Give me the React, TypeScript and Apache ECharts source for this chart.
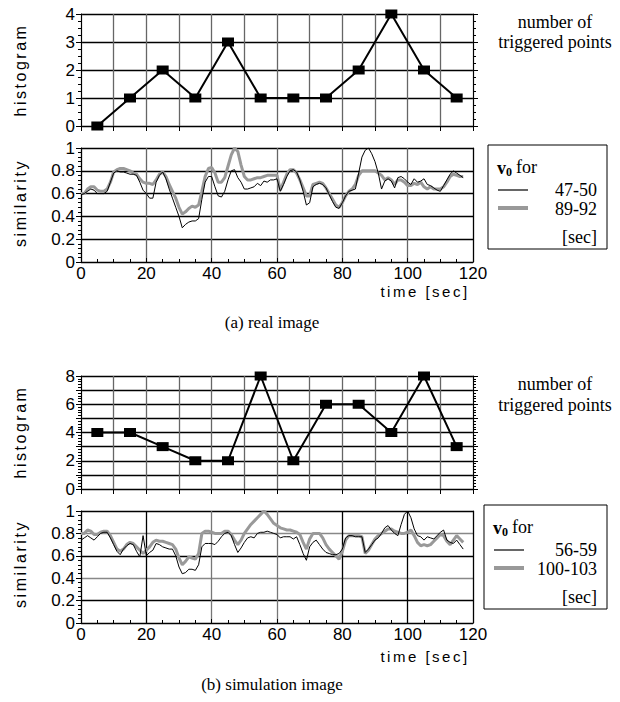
import React, { useEffect, useRef } from "react";
import * as echarts from "echarts";

// ---------- data ----------
const binCenters = [5, 15, 25, 35, 45, 55, 65, 75, 85, 95, 105, 115];
const histReal = [0, 1, 2, 1, 3, 1, 1, 1, 2, 4, 2, 1];
const histSim = [4, 4, 3, 2, 2, 8, 2, 6, 6, 4, 8, 3];

const seconds = Array.from({ length: 118 }, (_, i) => i);

// (a) real image, v0 for 47-50 [sec]
const simRealA = [
  0.59, 0.60, 0.62, 0.64, 0.63, 0.60, 0.60, 0.60, 0.62, 0.70,
  0.78, 0.80, 0.79, 0.79, 0.78, 0.77, 0.77, 0.76, 0.70, 0.63,
  0.60, 0.56, 0.56, 0.70, 0.76, 0.79, 0.73, 0.64, 0.56, 0.48,
  0.40, 0.30, 0.33, 0.35, 0.36, 0.36, 0.38, 0.55, 0.70, 0.75,
  0.75, 0.66, 0.58, 0.57, 0.62, 0.72, 0.80, 0.81, 0.74, 0.70,
  0.64, 0.64, 0.65, 0.66, 0.69, 0.67, 0.71, 0.70, 0.72, 0.72,
  0.73, 0.62, 0.68, 0.75, 0.80, 0.81, 0.79, 0.72, 0.62, 0.50,
  0.52, 0.66, 0.68, 0.69, 0.68, 0.65, 0.59, 0.53, 0.48, 0.47,
  0.52, 0.58, 0.62, 0.63, 0.64, 0.78, 0.92, 0.98, 1.00, 0.95,
  0.88, 0.78, 0.64, 0.71, 0.73, 0.71, 0.65, 0.74, 0.75, 0.73,
  0.70, 0.68, 0.73, 0.70, 0.71, 0.73, 0.68, 0.67, 0.65, 0.63,
  0.62, 0.67, 0.72, 0.77, 0.80, 0.78, 0.76, 0.74,
];
// (a) real image, v0 for 89-92 [sec]
const simRealB = [
  0.60, 0.60, 0.64, 0.66, 0.66, 0.63, 0.62, 0.62, 0.64, 0.70,
  0.79, 0.81, 0.82, 0.82, 0.81, 0.80, 0.78, 0.77, 0.73, 0.70,
  0.69, 0.69, 0.68, 0.72, 0.77, 0.79, 0.75, 0.68, 0.62, 0.56,
  0.48, 0.42, 0.44, 0.47, 0.49, 0.48, 0.50, 0.62, 0.75, 0.82,
  0.83, 0.78, 0.70, 0.70, 0.74, 0.84, 0.94, 1.00, 0.97, 0.85,
  0.75, 0.72, 0.72, 0.73, 0.74, 0.74, 0.75, 0.76, 0.76, 0.76,
  0.76, 0.63, 0.70, 0.77, 0.81, 0.81, 0.78, 0.72, 0.65, 0.58,
  0.58, 0.68, 0.69, 0.70, 0.69, 0.65, 0.60, 0.55, 0.50, 0.48,
  0.52, 0.58, 0.62, 0.64, 0.68, 0.76, 0.80, 0.80, 0.80, 0.80,
  0.80, 0.78, 0.76, 0.72, 0.74, 0.72, 0.68, 0.72, 0.72, 0.70,
  0.67, 0.67, 0.69, 0.68, 0.70, 0.66, 0.64, 0.66, 0.64, 0.64,
  0.64, 0.66, 0.70, 0.75, 0.77, 0.76, 0.75, 0.75,
];
// (b) simulation image, v0 for 56-59 [sec]
const simSimA = [
  0.74, 0.76, 0.78, 0.76, 0.74, 0.77, 0.80, 0.81, 0.81, 0.76,
  0.70, 0.64, 0.61, 0.66, 0.69, 0.71, 0.70, 0.64, 0.59, 0.78,
  0.60, 0.63, 0.65, 0.71, 0.70, 0.68, 0.67, 0.66, 0.66, 0.60,
  0.50, 0.44, 0.45, 0.48, 0.48, 0.47, 0.52, 0.68, 0.71, 0.71,
  0.71, 0.70, 0.73, 0.77, 0.80, 0.81, 0.78, 0.70, 0.63, 0.67,
  0.72, 0.76, 0.77, 0.76, 0.80, 0.81, 0.81, 0.82, 0.81, 0.80,
  0.79, 0.76, 0.77, 0.77, 0.77, 0.75, 0.77, 0.70, 0.62, 0.56,
  0.68, 0.72, 0.74, 0.70, 0.66, 0.63, 0.62, 0.61, 0.61, 0.62,
  0.66, 0.76, 0.78, 0.78, 0.77, 0.77, 0.77, 0.63, 0.66, 0.70,
  0.74, 0.76, 0.80, 0.85, 0.87, 0.83, 0.80, 0.78, 0.88, 0.97,
  1.00, 0.94, 0.84, 0.78, 0.77, 0.74, 0.77, 0.76, 0.75, 0.78,
  0.81, 0.83, 0.74, 0.72, 0.71, 0.74, 0.70, 0.66,
];
// (b) simulation image, v0 for 100-103 [sec]
const simSimB = [
  0.80, 0.80, 0.83, 0.82, 0.79, 0.79, 0.81, 0.82, 0.82, 0.78,
  0.72, 0.66, 0.64, 0.66, 0.70, 0.72, 0.71, 0.68, 0.65, 0.62,
  0.65, 0.68, 0.72, 0.74, 0.73, 0.73, 0.72, 0.71, 0.70, 0.66,
  0.58, 0.52, 0.55, 0.59, 0.58, 0.57, 0.62, 0.80, 0.82, 0.82,
  0.81, 0.80, 0.80, 0.80, 0.82, 0.82, 0.79, 0.74, 0.70, 0.74,
  0.80, 0.84, 0.88, 0.91, 0.94, 0.97, 1.00, 0.97, 0.93, 0.89,
  0.87, 0.85, 0.84, 0.83, 0.83, 0.82, 0.81, 0.79, 0.72, 0.66,
  0.75, 0.80, 0.80, 0.80, 0.76, 0.70, 0.66, 0.63, 0.60, 0.57,
  0.64, 0.74, 0.78, 0.78, 0.78, 0.78, 0.77, 0.62, 0.65, 0.70,
  0.75, 0.78, 0.80, 0.82, 0.84, 0.84, 0.82, 0.81, 0.80, 0.80,
  0.81, 0.83, 0.78, 0.72, 0.69, 0.70, 0.69, 0.70, 0.73, 0.76,
  0.79, 0.78, 0.73, 0.70, 0.74, 0.78, 0.75, 0.72,
];

const xTicksSim = [0, 20, 40, 60, 80, 100, 120];
const legendReal = ["47-50", "89-92"];
const legendSim = ["56-59", "100-103"];

// ---------- styling ----------
const SANS = "'Liberation Sans', Arial, sans-serif";
const SERIF = "'Liberation Serif', 'Times New Roman', serif";
const GRID_LEFT = 81;
const GRID_W = 392;
const TICK_FONT = 17;
const SERIF_FONT = 18;
const SPACED: Record<string, number> = { histogram: 2.5, similarity: 2.6, "time [sec]": 2.5 };

const pairs = (xs: number[], ys: number[]) => xs.map((x, i) => [x, ys[i]]);

export default function App() {
  const ref = useRef<HTMLDivElement>(null);

  useEffect(() => {
    if (!ref.current) return;
    const chart = echarts.init(ref.current, undefined, { renderer: "svg" });

    const grids = [
      { left: GRID_LEFT, top: 14, width: GRID_W, height: 112 },
      { left: GRID_LEFT, top: 148, width: GRID_W, height: 114 },
      { left: GRID_LEFT, top: 376, width: GRID_W, height: 113 },
      { left: GRID_LEFT, top: 511, width: GRID_W, height: 112 },
    ];

    const histX = (gi: number) => ({
      type: "value",
      gridIndex: gi,
      min: 0,
      max: 120,
      interval: 10,
      axisLine: { show: true, lineStyle: { color: "#000", width: 1 } },
      axisTick: { show: true, length: 5, lineStyle: { color: "#000" } },
      axisLabel: { show: false },
      splitLine: { show: true, lineStyle: { color: "#666", width: 1.3 } },
    });

    const simX = (gi: number, colors: string[]) => ({
      type: "value",
      gridIndex: gi,
      min: 0,
      max: 120,
      interval: 20,
      axisLine: { show: true, lineStyle: { color: "#000", width: 1 } },
      axisTick: { show: true, inside: true, length: 4, lineStyle: { color: "#000" } },
      minorTick: { show: true, splitNumber: 4, length: 3, lineStyle: { color: "#000" } },
      axisLabel: {
        show: true,
        fontFamily: SANS,
        fontSize: TICK_FONT,
        color: "#000",
        margin: 3,
        formatter: (v: number) => (xTicksSim.includes(v) ? String(v) : ""),
      },
      splitLine: { show: true, lineStyle: { color: colors, width: 1.3 } },
    });

    const histYLeft = (gi: number, max: number, labelEvery: number, minorSplit: number) => ({
      type: "value",
      gridIndex: gi,
      min: 0,
      max,
      interval: 1,
      axisLine: { show: true, lineStyle: { color: "#000", width: 1 } },
      axisTick: { show: true, length: 5, lineStyle: { color: "#000" } },
      minorTick: { show: true, splitNumber: minorSplit, length: 3, lineStyle: { color: "#000" } },
      axisLabel: {
        fontFamily: SANS,
        fontSize: TICK_FONT,
        color: "#000",
        margin: 6,
        formatter: (v: number) => (v % labelEvery === 0 ? String(v) : ""),
      },
      splitLine: { show: true, lineStyle: { color: "#000", width: 1.3 } },
    });

    const histYRight = (gi: number, max: number, minorSplit: number) => ({
      type: "value",
      gridIndex: gi,
      position: "right",
      min: 0,
      max,
      interval: 1,
      axisLine: { show: true, lineStyle: { color: "#000", width: 1 } },
      axisTick: { show: true, length: 5, lineStyle: { color: "#000" } },
      minorTick: { show: true, splitNumber: minorSplit, length: 3, lineStyle: { color: "#000" } },
      axisLabel: { show: false },
      splitLine: { show: false },
    });

    const simYLeft = (gi: number, colors: string[]) => ({
      type: "value",
      gridIndex: gi,
      min: 0,
      max: 1,
      interval: 0.2,
      axisLine: { show: true, lineStyle: { color: "#000", width: 1 } },
      axisTick: { show: true, length: 5, lineStyle: { color: "#000" } },
      minorTick: { show: true, splitNumber: 5, length: 3, lineStyle: { color: "#000" } },
      axisLabel: {
        fontFamily: SANS,
        fontSize: TICK_FONT,
        color: "#000",
        margin: 6,
        formatter: (v: number) => (v === 0 ? "0" : v === 1 ? "1" : v.toFixed(1)),
      },
      splitLine: { show: true, lineStyle: { color: colors, width: 1.3 } },
    });

    const simYRight = (gi: number) => ({
      type: "value",
      gridIndex: gi,
      position: "right",
      min: 0,
      max: 1,
      interval: 0.2,
      axisLine: { show: true, lineStyle: { color: "#000", width: 1 } },
      axisTick: { show: false },
      axisLabel: { show: false },
      splitLine: { show: false },
    });

    const histSeries = (gi: number, yi: number, vals: number[]) => ({
      type: "line",
      xAxisIndex: gi,
      yAxisIndex: yi,
      data: pairs(binCenters, vals),
      symbol: "rect",
      symbolSize: [12, 9],
      itemStyle: { color: "#000" },
      lineStyle: { color: "#000", width: 2 },
      z: 5,
    });

    const simSeries = (gi: number, yi: number, vals: number[], gray: boolean) => ({
      type: "line",
      xAxisIndex: gi,
      yAxisIndex: yi,
      data: pairs(seconds, vals),
      showSymbol: false,
      symbol: "none",
      lineStyle: gray ? { color: "#999", width: 3 } : { color: "#000", width: 1 },
      z: gray ? 3 : 4,
    });

    const txt = (x: number, y: number, text: string, extra: any = {}, rot = 0) => ({
      type: "text",
      x,
      y,
      rotation: rot,
      z: 10,
      style: {
        text,
        fill: "#000",
        align: "center",
        verticalAlign: "middle",
        fontFamily: SERIF,
        fontSize: SERIF_FONT,
        ...extra,
      },
    });

    const legend = (x0: number, y0: number, w: number, h: number, labels: string[]) => [
      {
        type: "rect",
        shape: { x: x0, y: y0, width: w, height: h },
        style: { fill: "#fff", stroke: "#000", lineWidth: 1 },
        z: 9,
      },
      txt(x0 + 9, y0 + 23, "v", { align: "left", fontWeight: "bold", fontSize: 18 }),
      txt(x0 + 18, y0 + 27, "0", { align: "left", fontWeight: "bold", fontSize: 12 }),
      txt(x0 + 28, y0 + 22, "for", { align: "left", fontSize: 18 }),
      {
        type: "line",
        shape: { x1: x0 + 10, y1: y0 + 45, x2: x0 + 40, y2: y0 + 45 },
        style: { stroke: "#000", lineWidth: 1.2 },
        z: 10,
      },
      txt(x0 + w - 10, y0 + 45, labels[0], { align: "right", fontSize: 18 }),
      {
        type: "line",
        shape: { x1: x0 + 10, y1: y0 + 63, x2: x0 + 40, y2: y0 + 63 },
        style: { stroke: "#999", lineWidth: 4 },
        z: 10,
      },
      txt(x0 + w - 10, y0 + 64, labels[1], { align: "right", fontSize: 18 }),
      txt(x0 + w - 10, y0 + 92, "[sec]", { align: "right", fontSize: 18 }),
    ];

    const option: any = {
      animation: false,
      backgroundColor: "#fff",
      grid: grids,
      xAxis: [
        histX(0),
        simX(1, ["#000", "#666", "#666", "#666", "#666", "#666", "#000"]),
        histX(2),
        simX(3, ["#000", "#000", "#777", "#777", "#000", "#000", "#000"]),
      ],
      yAxis: [
        histYLeft(0, 4, 1, 4),
        histYRight(0, 4, 4),
        simYLeft(1, ["#000", "#000", "#000", "#000", "#000", "#000"]),
        simYRight(1),
        histYLeft(2, 8, 2, 5),
        histYRight(2, 8, 5),
        simYLeft(3, ["#000", "#000", "#888", "#000", "#888", "#000"]),
        simYRight(3),
      ],
      series: [
        histSeries(0, 0, histReal),
        simSeries(1, 2, simRealB, true),
        simSeries(1, 2, simRealA, false),
        histSeries(2, 4, histSim),
        simSeries(3, 6, simSimB, true),
        simSeries(3, 6, simSimA, false),
      ],
      graphic: [
        txt(20, 70, "histogram", { fontFamily: SANS, fontSize: 16 }, Math.PI / 2),
        txt(20, 203, "similarity", { fontFamily: SANS, fontSize: 16 }, Math.PI / 2),
        txt(20, 432, "histogram", { fontFamily: SANS, fontSize: 16 }, Math.PI / 2),
        txt(20, 564, "similarity", { fontFamily: SANS, fontSize: 16 }, Math.PI / 2),
        txt(555, 22, "number of"),
        txt(555, 42, "triggered points"),
        txt(555, 384, "number of"),
        txt(555, 405, "triggered points"),
        txt(425, 291, "time [sec]", { fontFamily: SANS, fontSize: 15 }),
        txt(425, 656, "time [sec]", { fontFamily: SANS, fontSize: 15 }),
        txt(272, 322, "(a) real image", { fontSize: 17 }),
        txt(272, 684, "(b) simulation image", { fontSize: 17 }),
        ...legend(488, 145, 119, 104, legendReal),
        ...legend(484, 505, 123, 104, legendSim),
      ],
    };

    chart.setOption(option);

    const applySpacing = () => {
      const dom = ref.current;
      if (!dom) return;
      dom.querySelectorAll("text").forEach((t) => {
        const s = (t.textContent || "").trim();
        if (SPACED[s] !== undefined) t.setAttribute("letter-spacing", String(SPACED[s]));
      });
    };
    applySpacing();
    chart.on("finished", applySpacing);
    const raf = requestAnimationFrame(applySpacing);

    return () => {
      cancelAnimationFrame(raf);
      chart.dispose();
    };
  }, []);

  return (
    <div
      ref={ref}
      style={{ position: "absolute", left: 0, top: 0, width: 620, height: 702 }}
    />
  );
}
